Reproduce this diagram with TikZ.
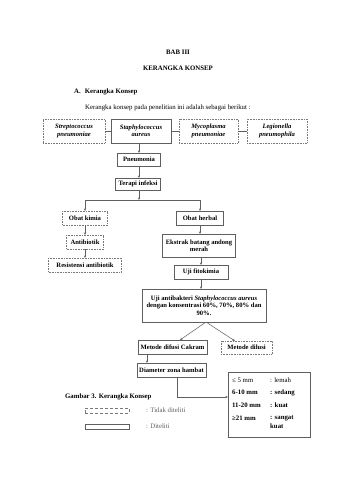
\documentclass[tikz,border=0pt]{standalone}
\usepackage{fontspec}
\setmainfont{Liberation Serif}
\usetikzlibrary{arrows.meta}
\definecolor{ln}{RGB}{95,95,95}
\definecolor{dt}{RGB}{120,120,120}
\tikzset{
  base/.style={font=\fontsize{6.6}{7.4}\selectfont\bfseries, align=center, inner sep=0pt, outer sep=0pt},
  solidbox/.style={base, draw=ln, line width=0.6pt},
  dotbox/.style={base, draw=dt, line width=0.6pt, densely dotted},
  conn/.style={draw=ln, line width=0.5pt},
  arr/.style={conn, -{Stealth[length=2.6pt,width=2.2pt]}},
  txt/.style={font=\fontsize{6.8}{7.6}\selectfont, inner sep=0pt, anchor=west},
  btxt/.style={txt, font=\fontsize{6.8}{7.6}\selectfont\bfseries},
}
\begin{document}
\begin{tikzpicture}[x=1pt,y=-1pt]
\useasboundingbox (0,0) rectangle (339,480);
% headings
\node[font=\fontsize{6.8}{7.6}\selectfont\bfseries, inner sep=0pt] (bab) at (178,52) {BAB III};
\node[font=\fontsize{6.8}{7.6}\selectfont\bfseries, inner sep=0pt] (kk) at (178,68) {KERANGKA KONSEP};
\node[btxt] (sec) at (74,92) {A.\hspace{4pt}Kerangka Konsep};
\node[txt] (intro) at (85,108) {Kerangka konsep pada penelitian ini adalah sebagai berikut :};
% top row
\node[dotbox, minimum width=62, minimum height=24] (b1) at (74,131) {\itshape Streptococcus\\\itshape pneumoniae};
\node[solidbox, minimum width=60, minimum height=24] (b2) at (141,131) {\itshape Staphylococcus\\\itshape aureus};
\node[dotbox, minimum width=59, minimum height=24] (b3) at (208.5,131) {\itshape Mycoplasma\\\itshape pneumoniae};
\node[dotbox, minimum width=60, minimum height=24] (b4) at (277,131) {\itshape Legionella\\\itshape pneumophila};
\draw[conn] (b1) -- (b2);
\draw[conn] (b2) -- (b3);
\draw[conn] (b3) -- (b4);
% chain
\node[solidbox, minimum width=43, minimum height=13] (pn) at (139,159.5) {Pneumonia};
\node[solidbox, minimum width=45, minimum height=12] (ti) at (138,184) {Terapi infeksi};
\coordinate (br) at (139,200);
\coordinate (brl) at (85,200);
\coordinate (brr) at (200,200);
\node[dotbox, minimum width=45, minimum height=14] (ok) at (85,218) {Obat kimia};
\node[solidbox, minimum width=47, minimum height=14] (oh) at (200,218) {Obat herbal};
\node[dotbox, minimum width=37, minimum height=14] (ab) at (85,242) {Antibiotik};
\node[dotbox, minimum width=73, minimum height=14] (ra) at (85,265) {Resistensi antibiotik};
\node[solidbox, minimum width=73, minimum height=23] (ek) at (199,245.5) {Ekstrak batang andong\\merah};
\node[solidbox, minimum width=54, minimum height=14] (uf) at (201,272) {Uji fitokimia};
\node[solidbox, minimum width=124, minimum height=33] (ua) at (204,305.5) {Uji antibakteri \textit{Staphylococcus aureus}\\dengan konsentrasi 60\%, 70\%, 80\% dan\\90\%.};
\node[solidbox, minimum width=69, minimum height=14] (md) at (172.5,347) {Metode difusi Cakram};
\node[dotbox, minimum width=51, minimum height=13] (ml) at (246.5,347.5) {Metode dilusi};
\node[solidbox, minimum width=69, minimum height=14] (dz) at (171.5,370) {Diameter zona hambat};
\node[solidbox, minimum width=82, minimum height=65] (rs) at (269,404.5) {};
\coordinate (apex) at (206,322);
\coordinate (bend) at (177,397);
% connectors
\draw[arr] (b2.south -| pn) -- (pn.north);
\draw[arr] (pn) -- (ti.north -| pn);
\draw[arr] (ti.south -| br) -- (br);
\draw[conn] (brl) -- (brr);
\draw[arr] (brl) -- (ok.north);
\draw[arr] (brr) -- (oh.north);
\draw[arr] (ok) -- (ab);
\draw[arr] (ab) -- (ra);
\draw[arr] (oh) -- (ek.north -| oh);
\draw[arr] (ek.south -| uf) -- (uf);
\draw[arr] (uf) -- (ua.north -| uf);
\draw[arr] (apex) -- (md.north -| 180,0);
\draw[arr] (apex) -- (ml.north -| 235,0);
\draw[arr] (md.south -| 147,0) -- (dz.north -| 147,0);
\draw[arr] (dz.south -| bend) -- (bend) -- (bend -| rs.west);
% result table
\node[txt] (r1a) at (232,380) {≤ 5 mm};
\node[txt] (r1b) at (270,380) {: lemah};
\node[btxt] (r2a) at (232,392.5) {6-10 mm};
\node[btxt] (r2b) at (270,392.5) {: sedang};
\node[btxt] (r3a) at (232,405) {11-20 mm};
\node[btxt] (r3b) at (270,405) {: kuat};
\node[btxt] (r4a) at (232,418) {≥21 mm};
\node[btxt] (r4b) at (270,418) {: sangat};
\node[btxt] (r4c) at (270,426.5) {kuat};
% legend
\node[btxt] (cap) at (65,397) {Gambar 3. Kerangka Konsep};
\node[draw=dt, densely dashed, line width=0.6pt, minimum width=44, minimum height=5, inner sep=0pt] (lg1) at (107,410.5) {};
\node[draw=ln, line width=0.8pt, minimum width=44, minimum height=5, inner sep=0pt] (lg2) at (107,426.5) {};
\node[txt, text=ln] (lt1) at (146,410.5) {: Tidak diteliti};
\node[txt, text=ln] (lt2) at (146,426.5) {: Diteliti};
\end{tikzpicture}
\end{document}
